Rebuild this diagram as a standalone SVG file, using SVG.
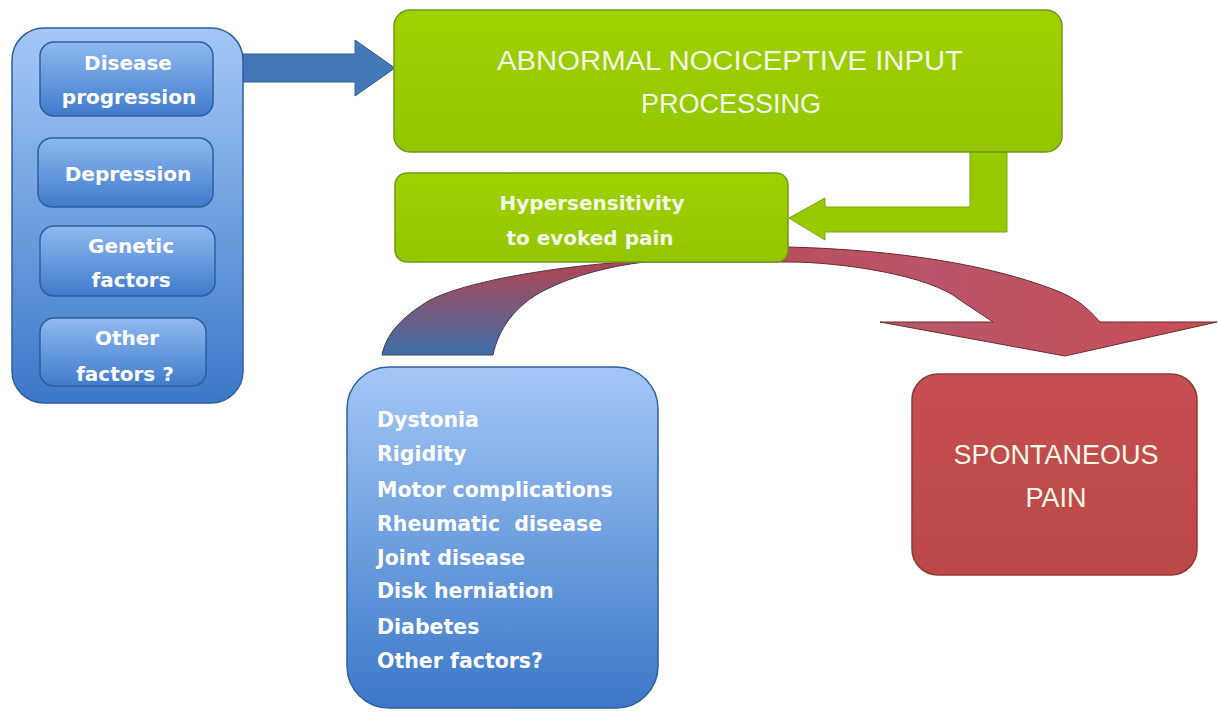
<svg xmlns="http://www.w3.org/2000/svg" width="1218" height="713" viewBox="0 0 1218 713">
<defs>
<linearGradient id="gBlue" x1="0" y1="0" x2="0" y2="1">
<stop offset="0" stop-color="#a3c8f7"/><stop offset="1" stop-color="#3c78c8"/></linearGradient>
<linearGradient id="gInner" x1="0" y1="0" x2="0" y2="1">
<stop offset="0" stop-color="#8fb9f0"/><stop offset="1" stop-color="#3f7bcb"/></linearGradient>
<linearGradient id="gGreen" x1="0" y1="0" x2="0" y2="1">
<stop offset="0" stop-color="#9fd000"/><stop offset="1" stop-color="#93c600"/></linearGradient>
<linearGradient id="gRed" x1="0" y1="0" x2="0" y2="1">
<stop offset="0" stop-color="#c54f52"/><stop offset="1" stop-color="#bb4746"/></linearGradient>
<linearGradient id="gArc" x1="0" y1="0" x2="0" y2="1">
<stop offset="0" stop-color="#b5444f"/><stop offset="1" stop-color="#3d6ea9"/></linearGradient>
<linearGradient id="gRArrow" x1="0" y1="0" x2="1" y2="0">
<stop offset="0" stop-color="#b9474f"/><stop offset="0.5" stop-color="#b9566a"/><stop offset="1" stop-color="#c74e54"/></linearGradient>
<style>
.t{font-family:"DejaVu Sans","Liberation Sans",Arial,sans-serif;fill:#ffffff;font-weight:bold;}
.lb{font-size:20px;}
.b{font-size:20.5px;}
.big{font-family:"Liberation Sans",Arial,sans-serif;font-weight:normal;font-size:27px;fill:#f4f8e6;}
.g{font-size:20px;fill:#f4f8e6;}
.box{stroke:#2e5f9e;stroke-width:1.5;}
</style>
</defs>
<rect width="1218" height="713" fill="#ffffff"/>
<g id="connectors">
<path d="M243,54 L355,54 L355,40 L395,68 L355,96 L355,82 L243,82 Z" fill="#4477b7" stroke="#355f96" stroke-width="1"/>
<path d="M970,150 L1007,150 L1007,232 L825,232 L825,240 L789,218 L825,198 L825,207 L970,207 Z" fill="#97cb00" stroke="#7aa31a" stroke-width="1"/>
<path d="M657,260 C600,262 480,275 430,300 C400,318 386,335 382,355 L493,355 C498,330 515,305 545,290 C575,275 610,266 645,262 Z" fill="url(#gArc)" stroke="#4a3a4a" stroke-width="1"/>
<path d="M640,262 L789,262 C840,262 930,275 960,300 L993,322 L880,322 L1065,356 L1217,322 L1100,322 C1085,305 1075,298 1055,290 C990,265 900,250 789,247 Z" fill="url(#gRArrow)" stroke="#6a2a2e" stroke-width="1"/>
</g>
<g id="left-group">
<rect x="12" y="28" width="231" height="375" rx="32" fill="url(#gBlue)" class="box"/>
</g>
<g id="disease-progression">
<rect x="40" y="42" width="173" height="74" rx="14" fill="url(#gInner)" class="box"/>
<text class="t lb" x="128" y="70" text-anchor="middle">Disease</text>
<text class="t lb" x="129" y="104" text-anchor="middle">progression</text>
</g>
<g id="depression">
<rect x="38" y="138" width="175" height="69" rx="14" fill="url(#gInner)" class="box"/>
<text class="t lb" x="128" y="181" text-anchor="middle">Depression</text>
</g>
<g id="genetic-factors">
<rect x="40" y="226" width="175" height="70" rx="14" fill="url(#gInner)" class="box"/>
<text class="t lb" x="131" y="253" text-anchor="middle">Genetic</text>
<text class="t lb" x="131" y="287" text-anchor="middle">factors</text>
</g>
<g id="other-factors">
<rect x="40" y="318" width="166" height="68" rx="14" fill="url(#gInner)" class="box"/>
<text class="t lb" x="127" y="345" text-anchor="middle">Other</text>
<text class="t lb" x="125" y="381" text-anchor="middle">factors ?</text>
</g>
<g id="abnormal-processing">
<rect x="394" y="10" width="668" height="142" rx="16" fill="url(#gGreen)" stroke="#6f9a18" stroke-width="1.5"/>
<text class="t big" x="730" y="70" text-anchor="middle" textLength="466" lengthAdjust="spacingAndGlyphs">ABNORMAL NOCICEPTIVE INPUT</text>
<text class="t big" x="731" y="113" text-anchor="middle">PROCESSING</text>
</g>
<g id="hypersensitivity">
<rect x="395" y="173" width="393" height="89" rx="12" fill="url(#gGreen)" stroke="#6f9a18" stroke-width="1.5"/>
<text class="t g" x="592" y="210" text-anchor="middle">Hypersensitivity</text>
<text class="t g" x="590" y="245" text-anchor="middle">to evoked pain</text>
</g>
<g id="factors-list">
<rect x="347" y="367" width="311" height="341" rx="42" fill="url(#gBlue)" class="box"/>
<text class="t b" x="377" y="427">Dystonia</text>
<text class="t b" x="377" y="461">Rigidity</text>
<text class="t b" x="377" y="497">Motor complications</text>
<text class="t b" x="377" y="531" xml:space="preserve">Rheumatic  disease</text>
<text class="t b" x="377" y="565">Joint disease</text>
<text class="t b" x="377" y="598">Disk herniation</text>
<text class="t b" x="377" y="634">Diabetes</text>
<text class="t b" x="377" y="668">Other factors?</text>
</g>
<g id="spontaneous-pain">
<rect x="912" y="374" width="285" height="201" rx="26" fill="url(#gRed)" stroke="#8e3a38" stroke-width="1.5"/>
<text class="t big" x="1056" y="464" text-anchor="middle" font-size="29">SPONTANEOUS</text>
<text class="t big" x="1056" y="507" text-anchor="middle" font-size="29">PAIN</text>
</g>
</svg>
